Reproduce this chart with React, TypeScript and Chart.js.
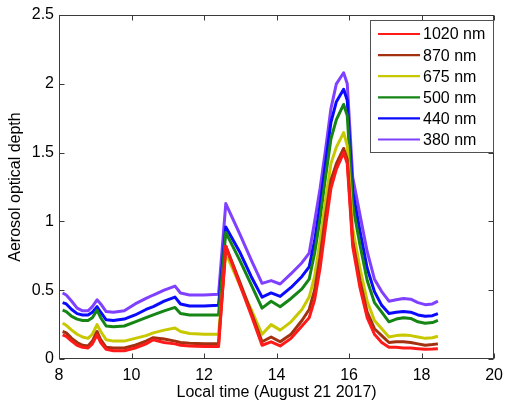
import React, { useEffect, useRef } from "react";
import { Chart, registerables } from "chart.js";

Chart.register(...registerables);

const times = [8.1, 8.2, 8.35, 8.5, 8.65, 8.8, 8.92, 9.05, 9.15, 9.3, 9.5, 9.8, 10.1, 10.4, 10.6, 10.9, 11.2, 11.35, 11.6, 12.0, 12.4, 12.6, 13.0, 13.3, 13.6, 13.85, 14.1, 14.4, 14.7, 14.9, 15.05, 15.2, 15.35, 15.5, 15.65, 15.85, 15.95, 16.1, 16.3, 16.5, 16.7, 16.9, 17.1, 17.3, 17.5, 17.7, 17.9, 18.1, 18.3, 18.45];

const aod1020 = [0.175, 0.165, 0.13, 0.1, 0.085, 0.08, 0.11, 0.175, 0.12, 0.07, 0.06, 0.06, 0.08, 0.11, 0.14, 0.12, 0.11, 0.1, 0.095, 0.09, 0.09, 0.82, 0.53, 0.32, 0.1, 0.125, 0.095, 0.15, 0.24, 0.3, 0.43, 0.66, 0.96, 1.24, 1.38, 1.5, 1.42, 0.82, 0.52, 0.3, 0.18, 0.12, 0.085, 0.085, 0.08, 0.08, 0.075, 0.07, 0.072, 0.075];
const aod870 = [0.2, 0.19, 0.15, 0.12, 0.1, 0.095, 0.13, 0.2, 0.14, 0.085, 0.08, 0.08, 0.1, 0.13, 0.155, 0.145, 0.13, 0.12, 0.115, 0.11, 0.11, 0.82, 0.55, 0.34, 0.125, 0.16, 0.125, 0.18, 0.28, 0.36, 0.5, 0.74, 1.04, 1.3, 1.42, 1.53, 1.45, 0.86, 0.57, 0.34, 0.22, 0.17, 0.12, 0.125, 0.125, 0.12, 0.11, 0.1, 0.105, 0.11];
const aod675 = [0.26, 0.245, 0.21, 0.18, 0.16, 0.15, 0.18, 0.25, 0.2, 0.14, 0.13, 0.13, 0.15, 0.17, 0.19, 0.21, 0.225, 0.2, 0.185, 0.18, 0.18, 0.77, 0.53, 0.36, 0.18, 0.25, 0.21, 0.27, 0.36, 0.45, 0.6, 0.86, 1.15, 1.42, 1.54, 1.645, 1.55, 0.95, 0.66, 0.42, 0.28, 0.22, 0.16, 0.17, 0.175, 0.17, 0.16, 0.15, 0.155, 0.165];
const aod500 = [0.355, 0.345, 0.31, 0.29, 0.28, 0.28, 0.3, 0.355, 0.3, 0.24, 0.235, 0.24, 0.27, 0.3, 0.32, 0.35, 0.375, 0.33, 0.32, 0.32, 0.32, 0.92, 0.71, 0.54, 0.37, 0.42, 0.38, 0.44, 0.51, 0.58, 0.77, 1.02, 1.32, 1.6, 1.74, 1.85, 1.77, 1.12, 0.83, 0.57, 0.41, 0.34, 0.27, 0.29, 0.3, 0.295, 0.27, 0.26, 0.265, 0.28];
const aod440 = [0.41, 0.4, 0.36, 0.33, 0.32, 0.32, 0.34, 0.38, 0.34, 0.285, 0.28, 0.29, 0.32, 0.36, 0.38, 0.42, 0.45, 0.4, 0.385, 0.385, 0.39, 0.96, 0.77, 0.6, 0.45, 0.48, 0.455, 0.52, 0.6, 0.67, 0.86, 1.12, 1.42, 1.72, 1.87, 1.96, 1.88, 1.22, 0.93, 0.66, 0.49, 0.39, 0.33, 0.34, 0.345, 0.34, 0.32, 0.31, 0.315, 0.33];
const aod380 = [0.48, 0.465, 0.42, 0.37, 0.35, 0.35, 0.38, 0.43, 0.4, 0.345, 0.34, 0.35, 0.4, 0.44, 0.465, 0.5, 0.53, 0.48, 0.465, 0.465, 0.47, 1.13, 0.9, 0.72, 0.55, 0.57, 0.545, 0.62, 0.7, 0.77, 1.0, 1.24, 1.52, 1.82, 2.0, 2.08, 2.0, 1.32, 1.05, 0.78, 0.58, 0.49, 0.42, 0.43, 0.44, 0.435, 0.41, 0.395, 0.4, 0.42];

const seriesLabels = ["1020 nm", "870 nm", "675 nm", "500 nm", "440 nm", "380 nm"];
const seriesColors = ["#ff1a1a", "#a3300f", "#c8c800", "#158515", "#0a0aff", "#8040ff"];
const seriesValues = [aod1020, aod870, aod675, aod500, aod440, aod380];

const xTicks = [8, 10, 12, 14, 16, 18, 20];
const yTicks = [0, 0.5, 1, 1.5, 2, 2.5];

const FONT = "'Liberation Sans', Arial, sans-serif";

const framePlugin = {
  id: "frame",
  afterDatasetsDraw(chart: any) {
    const { ctx, chartArea, scales } = chart;
    const l = Math.round(chartArea.left) + 0.5;
    const r = Math.round(chartArea.right) - 0.5;
    const t = Math.round(chartArea.top) + 0.5;
    const b = Math.round(chartArea.bottom) - 0.5;
    ctx.save();
    ctx.strokeStyle = "#3a3a3a";
    ctx.lineWidth = 1;
    ctx.strokeRect(l, t, r - l, b - t);
    const tl = 5;
    ctx.beginPath();
    xTicks.forEach((v) => {
      const px = Math.round(scales.x.getPixelForValue(v)) + 0.5;
      ctx.moveTo(px, b);
      ctx.lineTo(px, b - tl);
      ctx.moveTo(px, t);
      ctx.lineTo(px, t + tl);
    });
    yTicks.forEach((v) => {
      const py = Math.round(scales.y.getPixelForValue(v)) + 0.5;
      ctx.moveTo(l, py);
      ctx.lineTo(l + tl, py);
      ctx.moveTo(r, py);
      ctx.lineTo(r - tl, py);
    });
    ctx.stroke();
    ctx.restore();
  },
};

const legendPlugin = {
  id: "boxLegend",
  afterDraw(chart: any) {
    const { ctx } = chart;
    const bx = 370.5, by = 20.5, bw = 123, bh = 132;
    ctx.save();
    ctx.fillStyle = "#ffffff";
    ctx.fillRect(bx, by, bw, bh);
    ctx.strokeStyle = "#505050";
    ctx.lineWidth = 1;
    ctx.strokeRect(bx, by, bw, bh);
    ctx.font = `16px ${FONT}`;
    ctx.textBaseline = "middle";
    ctx.textAlign = "left";
    chart.data.datasets.forEach((ds: any, i: number) => {
      const yy = 34 + i * 21.1;
      ctx.strokeStyle = ds.borderColor;
      ctx.lineWidth = 2.2;
      ctx.beginPath();
      ctx.moveTo(378, yy);
      ctx.lineTo(420, yy);
      ctx.stroke();
      ctx.fillStyle = "#000";
      ctx.fillText(ds.label, 423, yy + 1);
    });
    ctx.restore();
  },
};

export default function App() {
  const ref = useRef<HTMLCanvasElement>(null);
  useEffect(() => {
    if (!ref.current) return;
    Chart.defaults.font.family = FONT;
    Chart.defaults.font.size = 16;
    Chart.defaults.color = "#000";
    const chart = new Chart(ref.current, {
      type: "line",
      data: {
        datasets: seriesLabels.map((label, i) => ({
          label,
          data: times.map((t, j) => ({ x: t, y: seriesValues[i][j] })),
          borderColor: seriesColors[i],
          backgroundColor: seriesColors[i],
          borderWidth: 3,
          pointRadius: 0,
          tension: 0,
          fill: false,
          borderJoinStyle: "round" as const,
        })),
      },
      options: {
        responsive: false,
        animation: false,
        devicePixelRatio: 1,
        layout: { padding: { left: 0, top: 15, right: 13, bottom: 0 } },
        plugins: { legend: { display: false }, tooltip: { enabled: false } },
        scales: {
          x: {
            type: "linear",
            min: 8,
            max: 20,
            afterBuildTicks: (s: any) => {
              s.ticks = xTicks.map((v) => ({ value: v }));
            },
            afterFit: (s: any) => {
              s.height = 45;
            },
            grid: { display: false, drawTicks: false },
            border: { display: false },
            ticks: { padding: 7, color: "#000", font: { size: 16 }, maxRotation: 0, callback: (v: any) => String(v) },
            title: {
              display: true,
              text: "Local time (August 21 2017)",
              color: "#000",
              font: { size: 16 },
              padding: { top: 0, bottom: 2 },
            },
          },
          y: {
            type: "linear",
            min: 0,
            max: 2.5,
            afterBuildTicks: (s: any) => {
              s.ticks = yTicks.map((v) => ({ value: v }));
            },
            afterFit: (s: any) => {
              s.width = 59;
            },
            grid: { display: false, drawTicks: false },
            border: { display: false },
            ticks: { padding: 5, color: "#000", font: { size: 16 }, callback: (v: any) => String(v) },
            title: {
              display: true,
              text: "Aerosol optical depth",
              color: "#000",
              font: { size: 16 },
              padding: { top: 6, bottom: 0 },
            },
          },
        },
      },
      plugins: [framePlugin, legendPlugin],
    });
    return () => chart.destroy();
  }, []);
  return (
    <div style={{ position: "absolute", left: 0, top: 0, width: 510, height: 404, background: "#fff" }}>
      <canvas ref={ref} width={510} height={404} style={{ display: "block" }} />
    </div>
  );
}
